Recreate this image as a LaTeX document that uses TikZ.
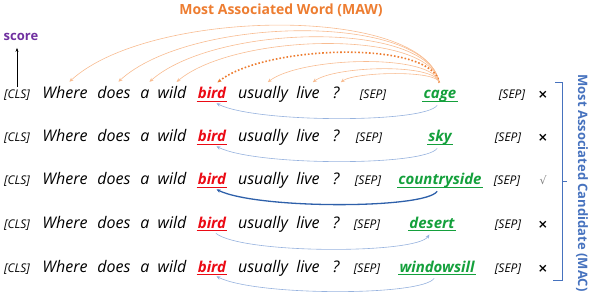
\documentclass[tikz,border=0pt]{standalone}
\usepackage{fontspec}
\setmainfont{Open Sans}
\newfontfamily\symfont{DejaVu Sans}
\usepackage{tikz}
\usetikzlibrary{arrows.meta,calc}
\definecolor{maworange}{RGB}{237,125,49}
\definecolor{mawlight}{RGB}{248,188,145}
\definecolor{macblue}{RGB}{70,114,190}
\definecolor{maclight}{RGB}{150,178,222}
\definecolor{macdark}{RGB}{46,96,170}
\definecolor{candgreen}{RGB}{20,160,60}
\definecolor{birdred}{RGB}{235,10,20}
\definecolor{scorepurple}{RGB}{112,48,160}

\begin{document}
\begin{tikzpicture}[x=1pt, y=-1pt,
  every node/.style = {inner sep=1pt, anchor=base},
  word/.style  = {font=\fontsize{16}{18}\selectfont\itshape, text height=12pt},
  tok/.style   = {font=\fontsize{12}{14}\selectfont\itshape},
  key/.style   = {font=\fontsize{15}{18}\selectfont\bfseries\itshape, text=birdred,
                  text height=11pt, text depth=1pt},
  cand/.style  = {font=\fontsize{15}{18}\selectfont\bfseries\itshape, text=candgreen,
                  text height=11pt, text depth=1pt},
  uline/.style = {line width=1pt},
  verdict/.style = {font=\symfont\fontsize{12}{14}\selectfont\bfseries},
  maw/.style   = {draw=mawlight, line width=0.6pt, -{Stealth[length=4pt,width=3.5pt]},
                  shorten <=4pt, shorten >=6pt},
  mac/.style   = {draw=maclight, line width=0.6pt, -{Stealth[length=4pt,width=3.5pt]},
                  shorten <=5pt, shorten >=5pt},
]
\useasboundingbox (0,0) rectangle (592,302);

%% ── Column positions of the question words ──────────────────────────────────
\def\xCls{17}    % [CLS]
\def\xWhere{65}
\def\xDoes{114}
\def\xA{145}
\def\xWild{172}
\def\xBird{212}  % the key word
\def\xUsually{263}
\def\xLive{308}
\def\xQ{336}
\def\xMark{543}  % verdict column

%% ── Title and score axis ─────────────────────────────────────────────────────
\node[anchor=center, font=\fontsize{14}{16}\selectfont\bfseries, text=maworange]
  (title) at (281, 10) {Most Associated Word (MAW)};
\node[anchor=center, font=\fontsize{13}{15}\selectfont\bfseries, text=scorepurple]
  (score) at (21, 37) {score};

%% ── Question part, same in every row ─────────────────────────────────────────
\foreach \r/\yb in {1/99, 2/142, 3/185, 4/228, 5/272} {
  \node[tok]  (cls\r)     at (\xCls, \yb)     {[CLS]};
  \node[word] (where\r)   at (\xWhere, \yb)   {Where};
  \node[word] (does\r)    at (\xDoes, \yb)    {does};
  \node[word] (a\r)       at (\xA, \yb)       {a};
  \node[word] (wild\r)    at (\xWild, \yb)    {wild};
  \node[key]  (bird\r)    at (\xBird, \yb)    {bird};
  \node[word] (usually\r) at (\xUsually, \yb) {usually};
  \node[word] (live\r)    at (\xLive, \yb)    {live};
  \node[word] (q\r)       at (\xQ, \yb)       {?};
  \draw[uline, birdred] (bird\r.south west) -- (bird\r.south east);
}

%% ── Row 1: cage ──────────────────────────────────────────────────────────────
\node[tok]     (sepa1) at (373, 99) {[SEP]};
\node[cand]    (cand1) at (440, 99) {cage};
\node[tok]     (sepb1) at (512, 99) {[SEP]};
\node[verdict] (v1)    at (\xMark, 99) {×};

%% ── Row 2: sky ───────────────────────────────────────────────────────────────
\node[tok]     (sepa2) at (369, 142) {[SEP]};
\node[cand]    (cand2) at (440, 142) {sky};
\node[tok]     (sepb2) at (508, 142) {[SEP]};
\node[verdict] (v2)    at (\xMark, 142) {×};

%% ── Row 3: countryside (the chosen one) ──────────────────────────────────────
\node[tok]     (sepa3) at (368, 185) {[SEP]};
\node[cand]    (cand3) at (440, 185) {countryside};
\node[tok]     (sepb3) at (507, 185) {[SEP]};
\node[verdict, font=\symfont\fontsize{11}{13}\selectfont, text=gray] (v3) at (\xMark, 185) {√};

%% ── Row 4: desert ────────────────────────────────────────────────────────────
\node[tok]     (sepa4) at (367, 228) {[SEP]};
\node[cand]    (cand4) at (432, 228) {desert};
\node[tok]     (sepb4) at (508, 228) {[SEP]};
\node[verdict] (v4)    at (\xMark, 228) {×};

%% ── Row 5: windowsill ────────────────────────────────────────────────────────
\node[tok]     (sepa5) at (367, 272) {[SEP]};
\node[cand]    (cand5) at (437, 272) {windowsill};
\node[tok]     (sepb5) at (508, 272) {[SEP]};
\node[verdict] (v5)    at (\xMark, 272) {×};

% green underlines of the candidates
\foreach \r in {1,...,5}
  \draw[uline, candgreen] (cand\r.south west) -- (cand\r.south east);

%% ── Score arrow ──────────────────────────────────────────────────────────────
\draw[-{Stealth[length=4pt,width=3pt]}, line width=0.5pt, shorten <=2pt, shorten >=6pt]
  (cls1.north) -- (cls1.north |- score.south);

%% ── MAW arcs: candidate -> question words ────────────────────────────────────
\draw[maw] (cand1.north) .. controls +(-15,-82) and +(85,-78) .. (where1.north);
\draw[maw] (cand1.north) .. controls +(-13,-75) and +(76,-70) .. (does1.north);
\draw[maw] (cand1.north) .. controls +(-11,-67) and +(70,-62) .. (a1.north);
\draw[maw] (cand1.north) .. controls +(-10,-58) and +(63,-53) .. (wild1.north);
\draw[maw, draw=maworange, line width=1.6pt, dotted, shorten >=7pt]
  (cand1.north) .. controls +(-8,-47) and +(53,-42) .. (bird1.north);
\draw[maw] (cand1.north) .. controls +(-6,-34) and +(38,-29) .. (usually1.north);
\draw[maw] (cand1.north) .. controls +(-4,-24) and +(27,-20) .. (live1.north);
\draw[maw] (cand1.north) .. controls +(-2,-17) and +(19,-14) .. (q1.north);

%% ── MAC arcs: candidate <-> bird ─────────────────────────────────────────────
\draw[mac] (cand1.south) .. controls +(-15,22) and +(45,22) .. (bird1.south);
\draw[mac] (cand2.south) .. controls +(-15,22) and +(45,22) .. (bird2.south);
\draw[mac, draw=macdark, line width=1.3pt]
  (cand3.south) .. controls +(-15,22) and +(45,22) .. (bird3.south);
\draw[mac] (bird4.south) .. controls +(30,24) and +(-15,24) .. (cand4.south);
\draw[mac] (cand5.south) .. controls +(-15,22) and +(45,22) .. (bird5.south);

%% ── Bracket and MAC label ────────────────────────────────────────────────────
\draw[macblue, line width=0.6pt] (555,82) -- (562,82) -- (562,280) -- (553,280);
\draw[macblue, line width=0.6pt] (562,181) -- (567,181);
\node[anchor=center, rotate=-90, font=\fontsize{13}{15}\selectfont\bfseries, text=macblue]
  (maclabel) at (582, 183) {Most Associated Candidate (MAC)};

\end{tikzpicture}
\end{document}
